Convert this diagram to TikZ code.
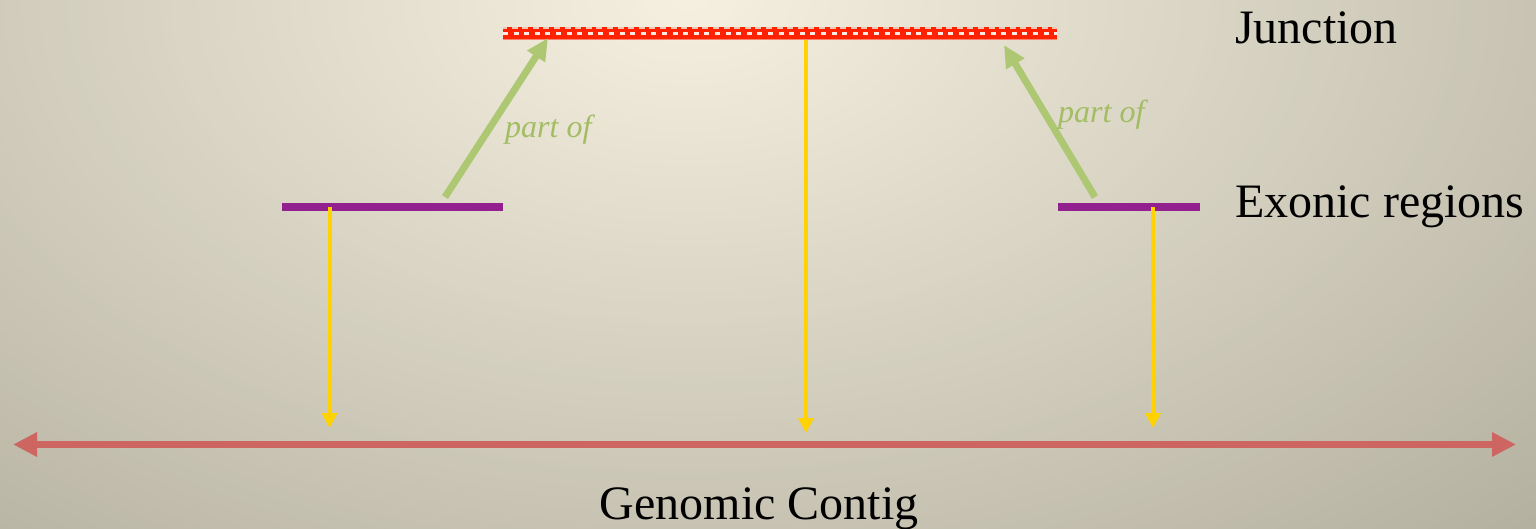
\documentclass[tikz,border=0pt]{standalone}
\usepackage{fontspec}
\setmainfont{Liberation Serif}
\usetikzlibrary{arrows.meta}
\definecolor{bgin}{HTML}{F5F0E0}
\definecolor{bgout}{HTML}{B0AC9B}
\definecolor{exonc}{HTML}{93208F}
\definecolor{goldc}{HTML}{FFD200}
\definecolor{contigc}{HTML}{CD6560}
\definecolor{juncc}{HTML}{FF2200}
\definecolor{jpink}{HTML}{F2C4B4}
\definecolor{partc}{HTML}{ADC772}
\definecolor{ptext}{HTML}{A2BD63}
\begin{document}
\begin{tikzpicture}[x=1pt,y=-1pt,
  exonbar/.style={line width=8pt, draw=exonc},
  yarrow/.style={draw=goldc, line width=4pt, -{Triangle[length=15pt,width=15pt]}},
  garrow/.style={draw=partc, line width=7pt, -{Triangle[length=22pt,width=20pt]}},
  lbl/.style={font=\fontsize{48}{52}\selectfont, text=black, inner sep=0pt},
  plbl/.style={font=\fontsize{32}{36}\selectfont\itshape, text=ptext, inner sep=0pt}]
% background: elliptical gradient built from concentric ellipses
\fill[bgout] (0,0) rectangle (1536,528);
\begin{scope}
\clip (0,0) rectangle (1536,528);
\foreach \i in {140,139,...,1}{
  \pgfmathsetmacro{\p}{\i*0.714286}
  \pgfmathsetmacro{\rx}{\i*9.28571}
  \pgfmathsetmacro{\ry}{\i*5.71429}
  \fill[bgout!\p!bgin] (690,0) ellipse [x radius=\rx, y radius=\ry];
}
\end{scope}
\useasboundingbox (0,0) rectangle (1536,528);
% coordinates
\coordinate (jL) at (503,33.5);
\coordinate (jR) at (1057,33.5);
\coordinate (jC) at (806,34);
\coordinate (eL1) at (282,207.3);
\coordinate (eL2) at (503,207.3);
\coordinate (eR1) at (1058,207.3);
\coordinate (eR2) at (1200,207.3);
\coordinate (ydL0) at (329.5,207.3);
\coordinate (ydL1) at (329.5,428);
\coordinate (ydC1) at (806,433);
\coordinate (ydR0) at (1153,207.3);
\coordinate (ydR1) at (1153,428);
\coordinate (gL0) at (445,197);
\coordinate (gL1) at (548,38);
\coordinate (gR0) at (1095,197);
\coordinate (gR1) at (1004,45);
\coordinate (cL) at (13,444.5);
\coordinate (cR) at (1516,444.5);
% genomic contig
\draw[draw=contigc, line width=7.5pt, {Triangle[length=24pt,width=23pt]}-{Triangle[length=24pt,width=23pt]}] (cL) -- (cR);
% center yellow arrow
\draw[yarrow] (jC) -- (ydC1);
% junction bar
\draw[line width=13pt, draw=juncc] (jL) -- (jR);
\draw[line width=2pt, draw=jpink, dash pattern=on 6pt off 4.6pt, dash phase=2pt] ([yshift=5.5pt]jL) -- ([yshift=5.5pt]jR);
\draw[line width=2.5pt, draw=white, opacity=.9, dash pattern=on 5pt off 5.6pt] (jL) -- (jR);
\draw[line width=1pt, draw=jpink, opacity=.6] ([yshift=-6pt]jL) -- ([yshift=-6pt]jR);
% exonic bars
\draw[exonbar] (eL1) -- (eL2);
\draw[exonbar] (eR1) -- (eR2);
% yellow arrows from exons
\draw[yarrow] (ydL0) -- (ydL1);
\draw[yarrow] (ydR0) -- (ydR1);
% part-of arrows
\draw[garrow] (gL0) -- (gL1);
\draw[garrow] (gR0) -- (gR1);
% labels
\node[lbl, anchor=base west] (junc) at (1235,43) {Junction};
\node[lbl, anchor=base west] (exon) at (1235,217) {Exonic regions};
\node[lbl, anchor=base] (contig) at (759,519) {Genomic Contig};
\node[plbl, anchor=base west] (p1) at (505,137) {part of};
\node[plbl, anchor=base west] (p2) at (1058,122) {part of};
\end{tikzpicture}
\end{document}
